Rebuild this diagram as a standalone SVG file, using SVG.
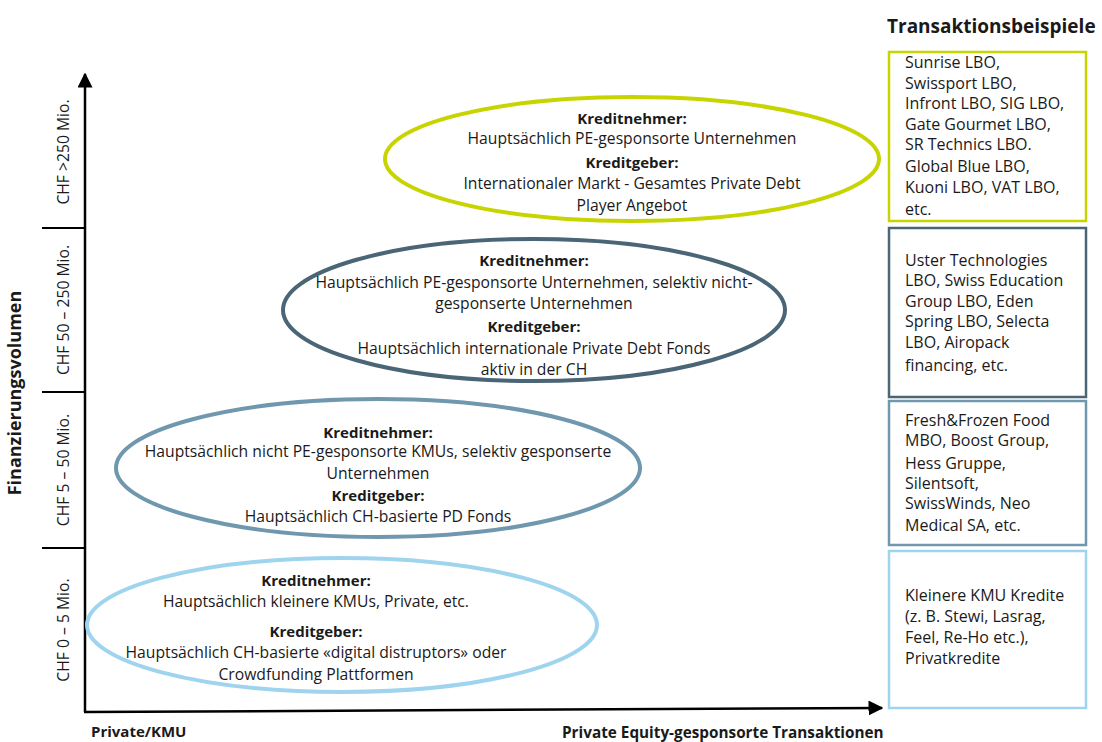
<svg xmlns="http://www.w3.org/2000/svg" width="1102" height="742" viewBox="0 0 1102 742">
<defs>
<style>
text{font-family:"Open Sans","Noto Sans","Liberation Sans",sans-serif;fill:#1a1a1a;}
.t{font-size:15.7px;}
.bt{font-size:16px;}
.b{font-size:15px;font-weight:700;}
.c{text-anchor:middle;}
.bx{fill:#ffffff;stroke-width:2.5;}
.el{fill:none;stroke-width:4;}
.ax{stroke:#000;stroke-width:2.5;fill:none;}
.tk{stroke:#000;stroke-width:2;}
</style>
<marker id="arr" viewBox="0 0 10 10" refX="9" refY="5" markerWidth="6" markerHeight="6" orient="auto" markerUnits="strokeWidth">
<path d="M0,0 L10,5 L0,10 z" fill="#000"/>
</marker>
</defs>
<rect width="1102" height="742" fill="#ffffff"/>

<g id="connectors">
<line class="ax" x1="85" y1="712" x2="85" y2="74" marker-end="url(#arr)"/>
<line class="ax" x1="84" y1="712" x2="882" y2="708" marker-end="url(#arr)"/>
<line class="tk" x1="42" y1="228" x2="85" y2="228"/>
<line class="tk" x1="42" y1="392" x2="85" y2="392"/>
<line class="tk" x1="42" y1="548" x2="85" y2="548"/>
</g>

<g id="axis-labels">
<text class="b" x="21" y="393" transform="rotate(-90 21 393)" text-anchor="middle" style="font-size:18px">Finanzierungsvolumen</text>
<text class="t c" x="69" y="152" transform="rotate(-90 69 152)">CHF &gt;250 Mio.</text>
<text class="t c" x="69" y="310" transform="rotate(-90 69 310)">CHF 50 – 250 Mio.</text>
<text class="t c" x="69" y="470" transform="rotate(-90 69 470)">CHF 5 – 50 Mio.</text>
<text class="t c" x="69" y="630" transform="rotate(-90 69 630)">CHF 0 – 5 Mio.</text>
<text class="b" x="91" y="737" style="font-size:15px">Private/KMU</text>
<text class="b" x="562" y="738" style="font-size:15.3px">Private Equity-gesponsorte Transaktionen</text>
</g>

<g id="ellipse-250">
<ellipse class="el" cx="632" cy="159" rx="247" ry="62" stroke="#c8d400"/>
<text class="b c" x="632" y="124">Kreditnehmer:</text>
<text class="t c" x="632" y="144">Hauptsächlich PE-gesponsorte Unternehmen</text>
<text class="b c" x="632" y="168">Kreditgeber:</text>
<text class="t c" x="632" y="189">Internationaler Markt - Gesamtes Private Debt</text>
<text class="t c" x="632" y="211">Player Angebot</text>
</g>

<g id="ellipse-50-250">
<ellipse class="el" cx="534" cy="310" rx="251" ry="71" stroke="#4a6575"/>
<text class="b c" x="534" y="266">Kreditnehmer:</text>
<text class="t c" x="534" y="288">Hauptsächlich PE-gesponsorte Unternehmen, selektiv nicht-</text>
<text class="t c" x="534" y="309">gesponserte Unternehmen</text>
<text class="b c" x="534" y="332">Kreditgeber:</text>
<text class="t c" x="534" y="354">Hauptsächlich internationale Private Debt Fonds</text>
<text class="t c" x="534" y="375">aktiv in der CH</text>
</g>

<g id="ellipse-5-50">
<ellipse class="el" cx="378" cy="468" rx="262" ry="69" stroke="#6f98af"/>
<text class="b c" x="378" y="438">Kreditnehmer:</text>
<text class="t c" x="378" y="457">Hauptsächlich nicht PE-gesponsorte KMUs, selektiv gesponserte</text>
<text class="t c" x="378" y="479">Unternehmen</text>
<text class="b c" x="378" y="501">Kreditgeber:</text>
<text class="t c" x="378" y="522">Hauptsächlich CH-basierte PD Fonds</text>
</g>

<g id="ellipse-0-5">
<ellipse class="el" cx="342" cy="625" rx="255" ry="67" stroke="#9fd4ef"/>
<text class="b c" x="316" y="586">Kreditnehmer:</text>
<text class="t c" x="316" y="607">Hauptsächlich kleinere KMUs, Private, etc.</text>
<text class="b c" x="316" y="637">Kreditgeber:</text>
<text class="t c" x="316" y="658">Hauptsächlich CH-basierte «digital distruptors» oder</text>
<text class="t c" x="316" y="680">Crowdfunding Plattformen</text>
</g>

<text class="b" x="887" y="33" style="font-size:19px">Transaktionsbeispiele</text>

<g id="box-250">
<rect class="bx" x="889" y="52" width="197" height="169" stroke="#c8d400"/>
<text class="bt" x="905" y="68">Sunrise LBO,</text>
<text class="bt" x="905" y="89">Swissport LBO,</text>
<text class="bt" x="905" y="109">Infront LBO, SIG LBO,</text>
<text class="bt" x="905" y="130">Gate Gourmet LBO,</text>
<text class="bt" x="905" y="150">SR Technics LBO.</text>
<text class="bt" x="905" y="172">Global Blue LBO,</text>
<text class="bt" x="905" y="193">Kuoni LBO, VAT LBO,</text>
<text class="bt" x="905" y="215">etc.</text>
</g>

<g id="box-50-250">
<rect class="bx" x="889" y="228" width="197" height="169" stroke="#4a6575"/>
<text class="bt" x="905" y="266">Uster Technologies</text>
<text class="bt" x="905" y="286">LBO, Swiss Education</text>
<text class="bt" x="905" y="307">Group LBO, Eden</text>
<text class="bt" x="905" y="327">Spring LBO, Selecta</text>
<text class="bt" x="905" y="348">LBO, Airopack</text>
<text class="bt" x="905" y="371">financing, etc.</text>
</g>

<g id="box-5-50">
<rect class="bx" x="889" y="401" width="197" height="144" stroke="#6f98af"/>
<text class="bt" x="905" y="426">Fresh&amp;Frozen Food</text>
<text class="bt" x="905" y="446">MBO, Boost Group,</text>
<text class="bt" x="905" y="469">Hess Gruppe,</text>
<text class="bt" x="905" y="489">Silentsoft,</text>
<text class="bt" x="905" y="509">SwissWinds, Neo</text>
<text class="bt" x="905" y="531">Medical SA, etc.</text>
</g>

<g id="box-0-5">
<rect class="bx" x="889" y="551" width="197" height="157" stroke="#9fd4ef"/>
<text class="bt" x="905" y="601">Kleinere KMU Kredite</text>
<text class="bt" x="905" y="622">(z. B. Stewi, Lasrag,</text>
<text class="bt" x="905" y="643">Feel, Re-Ho etc.),</text>
<text class="bt" x="905" y="664">Privatkredite</text>
</g>
</svg>
